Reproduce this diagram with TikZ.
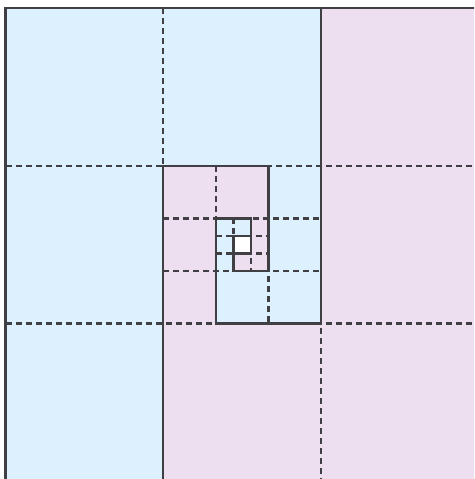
\documentclass[tikz,border=0pt]{standalone}
\usetikzlibrary{calc}
\definecolor{cblue}{RGB}{220,240,253}
\definecolor{cpink}{RGB}{237,222,240}
\definecolor{cline}{RGB}{64,64,68}
\tikzset{
  gridline/.style={draw=cline, line width=2.3pt, dash pattern=on 6pt off 4pt},
  edgeline/.style={draw=cline, line width=2.3pt, line cap=rect},
}
\begin{document}
\begin{tikzpicture}[x=1pt,y=-1pt]
\useasboundingbox (0,0) rectangle (474,479);
\clip (0,0) rectangle (474,479);
\fill[white] (0,0) rectangle (474,479);
% level 1 fills
\fill[cblue] (5.5,8) rectangle (163.3,481.4);
\fill[cblue] (163.3,8) rectangle (321.1,165.8);
\fill[cpink] (321.1,8) rectangle (478.9,481.4);
\fill[cpink] (163.3,323.6) rectangle (321.1,481.4);
% level 2 fills
\fill[cpink] (163.3,165.8) rectangle (215.9,323.6);
\fill[cpink] (215.9,165.8) rectangle (268.5,218.4);
\fill[cblue] (268.5,165.8) rectangle (321.1,323.6);
\fill[cblue] (215.9,271.0) rectangle (268.5,323.6);
% level 3 fills
\fill[cblue] (215.9,218.4) rectangle (233.4,271.0);
\fill[cblue] (233.4,218.4) rectangle (251.0,235.9);
\fill[cpink] (251.0,218.4) rectangle (268.5,271.0);
\fill[cpink] (233.4,253.5) rectangle (251.0,271.0);
% dashed grid lines
\draw[gridline] (163.3,8) -- (163.3,481.4);
\draw[gridline] (321.1,8) -- (321.1,481.4);
\draw[gridline] (5.5,165.8) -- (478.9,165.8);
\draw[gridline] (5.5,323.6) -- (478.9,323.6);
\draw[gridline] (215.9,165.8) -- (215.9,323.6);
\draw[gridline] (268.5,165.8) -- (268.5,323.6);
\draw[gridline] (163.3,218.4) -- (321.1,218.4);
\draw[gridline] (163.3,271.0) -- (321.1,271.0);
\draw[gridline] (233.4,218.4) -- (233.4,271.0);
\draw[gridline] (251.0,218.4) -- (251.0,271.0);
\draw[gridline] (215.9,235.9) -- (268.5,235.9);
\draw[gridline] (215.9,253.5) -- (268.5,253.5);
% solid boundaries
\draw[edgeline] (5.5,481.4) -- (5.5,8) -- (478.9,8);
\draw[edgeline] (163.3,481.4) -- (163.3,165.8) -- (268.5,165.8);
\draw[edgeline] (321.1,8) -- (321.1,323.6) -- (215.9,323.6);
\draw[edgeline] (215.9,323.6) -- (215.9,218.4) -- (251.0,218.4);
\draw[edgeline] (268.5,165.8) -- (268.5,271.0) -- (233.4,271.0);
\draw[edgeline] (233.4,271.0) -- (233.4,235.9) -- (251.0,235.9);
\draw[edgeline] (251.0,218.4) -- (251.0,253.5) -- (233.4,253.5);
\end{tikzpicture}
\end{document}
